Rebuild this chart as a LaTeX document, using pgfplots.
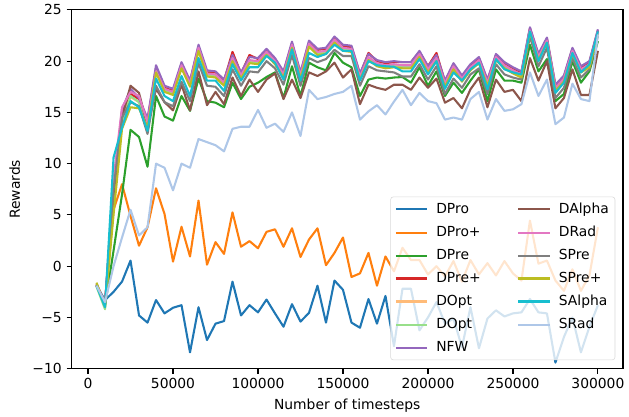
\documentclass[border=0pt]{standalone}
\usepackage{fontspec}
\setmainfont{DejaVu Sans}
\usepackage{pgfplots}
\pgfplotsset{compat=1.18}

\definecolor{tabblue}{HTML}{1F77B4}
\definecolor{taborange}{HTML}{FF7F0E}
\definecolor{tabgreen}{HTML}{2CA02C}
\definecolor{tabred}{HTML}{D62728}
\definecolor{lightorange}{HTML}{FFBB78}
\definecolor{lightgreen}{HTML}{98DF8A}
\definecolor{tabpurple}{HTML}{9467BD}
\definecolor{tabbrown}{HTML}{8C564B}
\definecolor{tabpink}{HTML}{E377C2}
\definecolor{tabgray}{HTML}{7F7F7F}
\definecolor{tabolive}{HTML}{BCBD22}
\definecolor{tabcyan}{HTML}{17BECF}
\definecolor{lightblue}{HTML}{AEC7E8}

\begin{document}
\begin{tikzpicture}
\begin{axis}[
    scale only axis,
    width=398pt, height=259pt,
    xmin=-9750, xmax=314750,
    ymin=-10, ymax=25,
    xtick={0,50000,100000,150000,200000,250000,300000},
    xticklabels={0,50000,100000,150000,200000,250000,300000},
    scaled x ticks=false,
    ytick={-10,-5,0,5,10,15,20,25},
    yticklabels={−10,−5,0,5,10,15,20,25},
    tick align=outside, tick pos=left,
    major tick length=3.5pt,
    every tick/.style={black, line width=0.8pt},
    axis line style={line width=0.8pt},
    tick label style={font=\fontsize{10}{12}\selectfont},
    label style={font=\fontsize{10}{12}\selectfont},
    xlabel={Number of timesteps},
    ylabel={Rewards},
    ylabel shift=2pt,
    legend columns=7, transpose legend,
    legend cell align=left,
    legend style={at={(0.986,0.024)}, anchor=south east,
        fill=white, fill opacity=0.8, text opacity=1,
        draw=black!15, rounded corners=2pt,
        font=\fontsize{10}{12}\selectfont,
        inner xsep=3pt, inner ysep=3pt, row sep=4.6pt,
        nodes={inner sep=1.5pt},
        /tikz/every odd column/.append style={column sep=4.5pt},
        /tikz/every even column/.append style={column sep=25pt}},
    legend image code/.code={\draw[#1, line width=1.5pt] (0pt,0pt) -- (22.5pt,0pt);},
    every axis plot/.append style={line width=1.5pt, line join=round},
    no markers,
]
% DPro
\addplot[tabblue] coordinates {
(5000,-1.9) (10000,-3.3) (15000,-2.5) (20000,-1.5) (25000,0.55) (30000,-4.8) (35000,-5.5) (40000,-3.3) (45000,-4.6) (50000,-4.05)
(55000,-3.8) (60000,-8.4) (65000,-4.0) (70000,-7.2) (75000,-5.6) (80000,-5.35) (85000,-1.5) (90000,-4.8) (95000,-3.8) (100000,-4.5)
(105000,-3.25) (110000,-4.6) (115000,-5.9) (120000,-3.7) (125000,-5.4) (130000,-4.55) (135000,-1.9) (140000,-5.5) (145000,-1.4) (150000,-2.3)
(155000,-5.5) (160000,-6.0) (165000,-3.2) (170000,-5.6) (175000,-2.9) (180000,-7.8) (185000,-2.2) (190000,-2.2) (195000,-6.25) (200000,-5.0)
(205000,-3.5) (210000,-5.6) (215000,-5.1) (220000,-7.9) (225000,-4.0) (230000,-8.0) (235000,-5.1) (240000,-4.3) (245000,-4.9) (250000,-4.6)
(255000,-4.5) (260000,-3.2) (265000,-4.5) (270000,-4.6) (275000,-9.4) (280000,-6.9) (285000,-5.0) (290000,-8.4) (295000,-5.9) (300000,-3.8)};
\addlegendentry{DPro}
% DPro+
\addplot[taborange] coordinates {
(5000,-1.8) (10000,-3.6) (15000,5.5) (20000,8.0) (25000,4.9) (30000,2.0) (35000,3.8) (40000,7.6) (45000,5.1) (50000,0.45)
(55000,3.85) (60000,0.95) (65000,6.4) (70000,0.15) (75000,2.35) (80000,1.2) (85000,5.25) (90000,1.9) (95000,2.45) (100000,1.75)
(105000,3.35) (110000,3.6) (115000,1.9) (120000,3.7) (125000,0.9) (130000,2.6) (135000,3.7) (140000,0.1) (145000,1.3) (150000,2.8)
(155000,-1.05) (160000,-0.7) (165000,1.3) (170000,-1.9) (175000,0.95) (180000,-0.5) (185000,1.8) (190000,0.6) (195000,0.6) (200000,-0.8)
(205000,0.0) (210000,-1.0) (215000,0.5) (220000,-1.5) (225000,0.6) (230000,-0.8) (235000,0.3) (240000,-0.9) (245000,0.5) (250000,-0.7)
(255000,-1.4) (260000,4.45) (265000,0.25) (270000,0.55) (275000,-1.4) (280000,-2.4) (285000,-0.3) (290000,-2.4) (295000,-0.9) (300000,3.8)};
\addlegendentry{DPro+}
% DPre
\addplot[tabgreen] coordinates {
(5000,-1.9) (10000,-3.8) (15000,1.5) (20000,7.0) (25000,13.3) (30000,12.6) (35000,9.7) (40000,16.6) (45000,14.6) (50000,14.2)
(55000,16.6) (60000,15.15) (65000,18.3) (70000,16.1) (75000,15.95) (80000,15.5) (85000,17.9) (90000,16.3) (95000,17.5) (100000,17.9)
(105000,18.45) (110000,18.9) (115000,16.4) (120000,19.5) (125000,16.6) (130000,19.85) (135000,19.4) (140000,19.1) (145000,20.8) (150000,19.85)
(155000,19.4) (160000,16.6) (165000,18.2) (170000,18.4) (175000,18.3) (180000,18.4) (185000,18.45) (190000,17.9) (195000,19.4) (200000,17.6)
(205000,19.0) (210000,16.6) (215000,17.9) (220000,16.9) (225000,18.1) (230000,19.2) (235000,16.1) (240000,19.2) (245000,18.1) (250000,18.1)
(255000,17.9) (260000,21.6) (265000,19.0) (270000,20.2) (275000,16.1) (280000,16.8) (285000,20.0) (290000,17.9) (295000,19.0) (300000,21.95)};
\addlegendentry{DPre}
% DPre+
\addplot[tabred] coordinates {
(5000,-1.9) (10000,-3.7) (15000,7.0) (20000,15.0) (25000,16.8) (30000,16.3) (35000,14.2) (40000,19.3) (45000,17.4) (50000,17.1)
(55000,19.7) (60000,18.0) (65000,21.4) (70000,18.9) (75000,18.9) (80000,18.1) (85000,20.9) (90000,18.8) (95000,20.6) (100000,20.2)
(105000,21.0) (110000,20.2) (115000,18.9) (120000,21.7) (125000,18.8) (130000,21.8) (135000,21.1) (140000,21.2) (145000,22.2) (150000,21.4)
(155000,21.4) (160000,18.7) (165000,20.8) (170000,20.0) (175000,19.8) (180000,19.9) (185000,19.9) (190000,19.9) (195000,20.9) (200000,19.5)
(205000,20.8) (210000,18.0) (215000,19.7) (220000,18.5) (225000,19.6) (230000,20.3) (235000,18.1) (240000,20.6) (245000,19.8) (250000,19.3)
(255000,18.9) (260000,23.2) (265000,20.6) (270000,22.2) (275000,17.6) (280000,18.5) (285000,21.2) (290000,19.4) (295000,19.9) (300000,23.0)};
\addlegendentry{DPre+}
% DOpt
\addplot[lightorange] coordinates {
(5000,-1.8) (10000,-3.8) (15000,6.5) (20000,14.5) (25000,16.5) (30000,16.0) (35000,13.9) (40000,19.1) (45000,17.2) (50000,16.9)
(55000,19.5) (60000,17.7) (65000,21.2) (70000,18.7) (75000,18.6) (80000,17.8) (85000,20.2) (90000,18.5) (95000,20.0) (100000,19.9)
(105000,20.8) (110000,19.9) (115000,18.6) (120000,21.5) (125000,18.5) (130000,21.6) (135000,20.8) (140000,20.9) (145000,22.0) (150000,21.2)
(155000,21.1) (160000,18.4) (165000,20.3) (170000,19.7) (175000,19.5) (180000,19.6) (185000,19.5) (190000,19.5) (195000,20.6) (200000,19.1)
(205000,20.2) (210000,17.7) (215000,19.4) (220000,18.2) (225000,19.3) (230000,20.0) (235000,17.8) (240000,20.3) (245000,19.5) (250000,19.0)
(255000,18.6) (260000,22.9) (265000,20.3) (270000,21.9) (275000,17.3) (280000,18.2) (285000,20.9) (290000,19.1) (295000,19.6) (300000,22.7)};
\addlegendentry{DOpt}
% DOpt (second)
\addplot[lightgreen] coordinates {
(5000,-2.0) (10000,-4.2) (15000,6.0) (20000,14.0) (25000,16.6) (30000,16.0) (35000,13.8) (40000,19.0) (45000,17.1) (50000,16.8)
(55000,19.4) (60000,17.6) (65000,21.1) (70000,18.6) (75000,18.5) (80000,17.7) (85000,20.1) (90000,18.4) (95000,19.9) (100000,19.8)
(105000,20.7) (110000,19.8) (115000,18.5) (120000,21.4) (125000,18.4) (130000,21.5) (135000,20.7) (140000,20.8) (145000,21.9) (150000,21.1)
(155000,21.0) (160000,18.3) (165000,20.2) (170000,19.6) (175000,19.4) (180000,19.5) (185000,19.4) (190000,19.4) (195000,20.5) (200000,19.0)
(205000,20.1) (210000,17.6) (215000,19.3) (220000,18.1) (225000,19.2) (230000,19.9) (235000,17.7) (240000,20.2) (245000,19.4) (250000,18.9)
(255000,18.5) (260000,22.8) (265000,20.2) (270000,21.8) (275000,17.2) (280000,18.1) (285000,20.8) (290000,19.0) (295000,19.5) (300000,22.6)};
\addlegendentry{DOpt}
% NFW
\addplot[tabpurple] coordinates {
(5000,-1.8) (10000,-3.6) (15000,7.5) (20000,15.3) (25000,17.3) (30000,16.4) (35000,14.4) (40000,19.6) (45000,17.6) (50000,17.3)
(55000,19.9) (60000,18.1) (65000,21.6) (70000,19.1) (75000,19.0) (80000,18.2) (85000,20.6) (90000,18.9) (95000,20.4) (100000,20.3)
(105000,21.2) (110000,20.3) (115000,19.0) (120000,21.9) (125000,18.9) (130000,22.0) (135000,21.2) (140000,21.3) (145000,22.4) (150000,21.6)
(155000,21.5) (160000,18.8) (165000,20.7) (170000,20.1) (175000,19.9) (180000,20.0) (185000,19.9) (190000,19.9) (195000,21.0) (200000,19.5)
(205000,20.6) (210000,18.1) (215000,19.8) (220000,18.6) (225000,19.7) (230000,20.4) (235000,18.2) (240000,20.7) (245000,19.9) (250000,19.4)
(255000,19.0) (260000,23.3) (265000,20.7) (270000,22.3) (275000,17.7) (280000,18.6) (285000,21.3) (290000,19.5) (295000,20.0) (300000,23.1)};
\addlegendentry{NFW}
% DAlpha
\addplot[tabbrown] coordinates {
(5000,-1.7) (10000,-3.6) (15000,7.0) (20000,14.5) (25000,17.6) (30000,16.9) (35000,13.6) (40000,17.3) (45000,16.0) (50000,15.2)
(55000,17.7) (60000,15.2) (65000,19.0) (70000,15.7) (75000,17.0) (80000,15.8) (85000,18.4) (90000,16.6) (95000,18.2) (100000,17.0)
(105000,18.2) (110000,18.8) (115000,16.3) (120000,18.2) (125000,16.4) (130000,18.9) (135000,18.55) (140000,19.0) (145000,19.85) (150000,18.4)
(155000,19.2) (160000,15.8) (165000,17.7) (170000,17.4) (175000,17.2) (180000,17.7) (185000,17.7) (190000,17.2) (195000,18.4) (200000,17.4)
(205000,18.3) (210000,15.95) (215000,16.4) (220000,15.4) (225000,17.25) (230000,18.4) (235000,15.5) (240000,18.2) (245000,17.0) (250000,17.2)
(255000,16.1) (260000,20.3) (265000,18.1) (270000,20.0) (275000,15.4) (280000,16.4) (285000,19.2) (290000,16.7) (295000,16.7) (300000,21.0)};
\addlegendentry{DAlpha}
% DRad
\addplot[tabpink] coordinates {
(5000,-1.8) (10000,-3.7) (15000,8.5) (20000,15.5) (25000,17.0) (30000,16.6) (35000,14.0) (40000,19.0) (45000,17.3) (50000,17.0)
(55000,19.6) (60000,17.8) (65000,21.3) (70000,18.8) (75000,18.7) (80000,17.9) (85000,20.3) (90000,18.6) (95000,20.1) (100000,20.0)
(105000,20.9) (110000,20.0) (115000,18.7) (120000,21.6) (125000,18.6) (130000,21.7) (135000,20.9) (140000,21.0) (145000,22.1) (150000,21.3)
(155000,21.2) (160000,18.5) (165000,20.4) (170000,19.8) (175000,19.6) (180000,19.7) (185000,19.6) (190000,19.6) (195000,20.7) (200000,19.2)
(205000,20.3) (210000,17.8) (215000,19.5) (220000,18.3) (225000,19.4) (230000,20.1) (235000,17.9) (240000,20.4) (245000,19.6) (250000,19.1)
(255000,18.7) (260000,23.0) (265000,20.4) (270000,22.0) (275000,17.4) (280000,18.3) (285000,21.0) (290000,19.2) (295000,19.7) (300000,22.8)};
\addlegendentry{DRad}
% SPre
\addplot[tabgray] coordinates {
(5000,-1.8) (10000,-3.8) (15000,7.5) (20000,14.5) (25000,16.0) (30000,15.6) (35000,12.9) (40000,17.6) (45000,16.0) (50000,15.6)
(55000,18.0) (60000,16.1) (65000,19.8) (70000,17.6) (75000,17.5) (80000,16.6) (85000,19.2) (90000,17.6) (95000,19.0) (100000,18.9)
(105000,20.0) (110000,19.3) (115000,17.7) (120000,20.6) (125000,17.6) (130000,20.3) (135000,19.9) (140000,20.2) (145000,21.1) (150000,20.5)
(155000,20.5) (160000,17.6) (165000,19.5) (170000,19.1) (175000,19.0) (180000,18.9) (185000,18.5) (190000,18.5) (195000,19.7) (200000,18.2)
(205000,19.5) (210000,16.8) (215000,18.3) (220000,17.4) (225000,18.7) (230000,19.3) (235000,16.8) (240000,19.7) (245000,18.7) (250000,18.4)
(255000,18.2) (260000,22.4) (265000,19.5) (270000,21.3) (275000,16.4) (280000,17.4) (285000,20.3) (290000,18.4) (295000,19.2) (300000,22.5)};
\addlegendentry{SPre}
% SPre+
\addplot[tabolive] coordinates {
(5000,-1.6) (10000,-4.0) (15000,5.0) (20000,13.4) (25000,15.5) (30000,15.4) (35000,13.5) (40000,18.9) (45000,17.0) (50000,16.7)
(55000,19.3) (60000,17.5) (65000,21.0) (70000,18.5) (75000,18.4) (80000,17.6) (85000,20.0) (90000,18.3) (95000,19.8) (100000,19.7)
(105000,20.6) (110000,19.7) (115000,18.4) (120000,21.3) (125000,18.3) (130000,21.4) (135000,20.6) (140000,20.7) (145000,21.8) (150000,21.0)
(155000,20.9) (160000,18.2) (165000,20.1) (170000,19.5) (175000,19.3) (180000,19.4) (185000,19.3) (190000,19.3) (195000,20.4) (200000,18.9)
(205000,20.0) (210000,17.5) (215000,19.2) (220000,18.0) (225000,19.1) (230000,19.8) (235000,17.6) (240000,20.1) (245000,19.3) (250000,18.8)
(255000,18.4) (260000,22.8) (265000,20.1) (270000,21.8) (275000,17.1) (280000,18.0) (285000,20.7) (290000,18.9) (295000,19.4) (300000,22.6)};
\addlegendentry{SPre+}
% SAlpha
\addplot[tabcyan] coordinates {
(5000,-1.9) (10000,-4.0) (15000,10.6) (20000,13.5) (25000,16.1) (30000,15.5) (35000,13.2) (40000,18.3) (45000,16.6) (50000,16.1)
(55000,18.55) (60000,16.6) (65000,20.3) (70000,18.1) (75000,18.1) (80000,17.1) (85000,19.7) (90000,18.1) (95000,19.4) (100000,19.4)
(105000,20.5) (110000,19.85) (115000,18.2) (120000,21.15) (125000,18.1) (130000,20.8) (135000,20.4) (140000,20.7) (145000,21.6) (150000,21.0)
(155000,21.0) (160000,18.1) (165000,20.0) (170000,19.6) (175000,19.5) (180000,19.45) (185000,19.0) (190000,19.0) (195000,20.2) (200000,18.7)
(205000,20.0) (210000,17.3) (215000,18.9) (220000,18.1) (225000,19.2) (230000,19.85) (235000,17.25) (240000,20.2) (245000,19.2) (250000,18.9)
(255000,18.7) (260000,22.9) (265000,20.0) (270000,21.8) (275000,16.9) (280000,17.9) (285000,20.8) (290000,18.9) (295000,19.7) (300000,22.9)};
\addlegendentry{SAlpha}
% SRad
\addplot[lightblue] coordinates {
(5000,-1.9) (10000,-3.5) (15000,0.0) (20000,2.8) (25000,5.5) (30000,3.0) (35000,3.8) (40000,10.0) (45000,9.6) (50000,7.4)
(55000,10.0) (60000,9.6) (65000,12.4) (70000,12.1) (75000,11.8) (80000,11.2) (85000,13.4) (90000,13.6) (95000,13.6) (100000,15.25)
(105000,13.5) (110000,13.9) (115000,13.1) (120000,15.0) (125000,12.7) (130000,17.2) (135000,16.3) (140000,16.5) (145000,16.8) (150000,17.0)
(155000,17.6) (160000,14.3) (165000,15.1) (170000,15.7) (175000,14.8) (180000,16.05) (185000,17.2) (190000,15.7) (195000,16.9) (200000,16.1)
(205000,15.9) (210000,14.3) (215000,14.5) (220000,14.3) (225000,16.3) (230000,17.0) (235000,14.3) (240000,16.3) (245000,15.15) (250000,15.3)
(255000,15.8) (260000,18.9) (265000,16.6) (270000,18.2) (275000,13.85) (280000,14.5) (285000,17.8) (290000,16.3) (295000,16.1) (300000,22.6)};
\addlegendentry{SRad}
\end{axis}
\path ([xshift=-3.5pt]current bounding box.west);
\end{tikzpicture}
\end{document}
